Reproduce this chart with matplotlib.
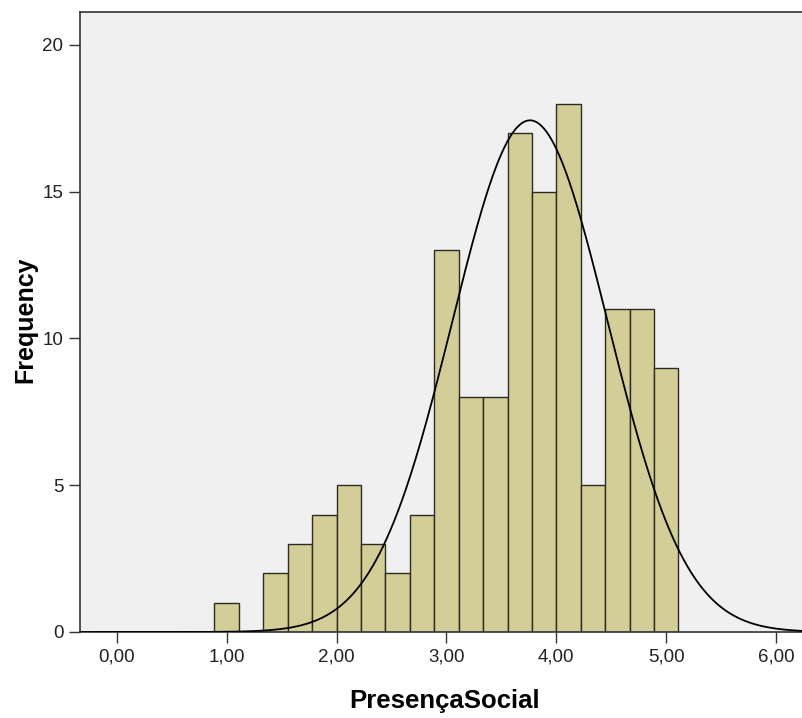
import numpy as np
import matplotlib
matplotlib.use("Agg")
import matplotlib.pyplot as plt

# histogram of PresençaSocial (SPSS style)
bin_start = 8 / 9
bin_width = 2 / 9
counts = [1, 0, 2, 3, 4, 5, 3, 2, 4, 13, 8, 8, 17, 15, 18, 5, 11, 11, 9]
mean = 3.76
std = 0.707
n_total = sum(counts)

xticks = [0, 1, 2, 3, 4, 5, 6]
xtick_labels = ["0,00", "1,00", "2,00", "3,00", "4,00", "5,00", "6,00"]
yticks = [0, 5, 10, 15, 20]

plt.rcParams["font.family"] = ["Liberation Sans", "DejaVu Sans"]

fig = plt.figure(figsize=(8.02, 7.18), dpi=100)
ax = fig.add_axes([80 / 802, 1 - 632 / 718, 728 / 802, 620 / 718])
ax.set_facecolor("#f0f0f0")

lefts = bin_start + bin_width * np.arange(len(counts))
ax.bar(lefts, counts, width=bin_width, align="edge",
       color="#d3ce97", edgecolor="#2b2b22", linewidth=1.0, zorder=2)

xs = np.linspace(-0.4, 6.4, 600)
curve = n_total * bin_width / (std * np.sqrt(2 * np.pi)) * np.exp(-0.5 * ((xs - mean) / std) ** 2)
ax.plot(xs, curve, color="black", linewidth=1.3, zorder=3)

ax.set_xlim(-0.335, 6.29)
ax.set_ylim(0, 21.12)
ax.set_xticks(xticks)
ax.set_xticklabels(xtick_labels)
ax.set_yticks(yticks)
ax.tick_params(axis="both", labelsize=13.5, length=8, width=1.0,
               colors="#333333", labelcolor="#222222", pad=4)

for side in ["left", "bottom", "top"]:
    ax.spines[side].set_color("#333333")
    ax.spines[side].set_linewidth(1.2)
ax.spines["right"].set_visible(False)

ax.set_xlabel("PresençaSocial", fontsize=18.5, fontweight="bold")
ax.xaxis.set_label_coords((445 - 80) / 728, -(689 - 632) / 620)
ax.xaxis.label.set_va("top")
ax.set_ylabel("Frequency", fontsize=18, fontweight="bold")
ax.yaxis.set_label_coords(-(80 - 25) / 728, (632 - 320) / 620)
ax.yaxis.label.set_va("center")

fig.savefig("out.png", dpi=100)
plt.close(fig)
